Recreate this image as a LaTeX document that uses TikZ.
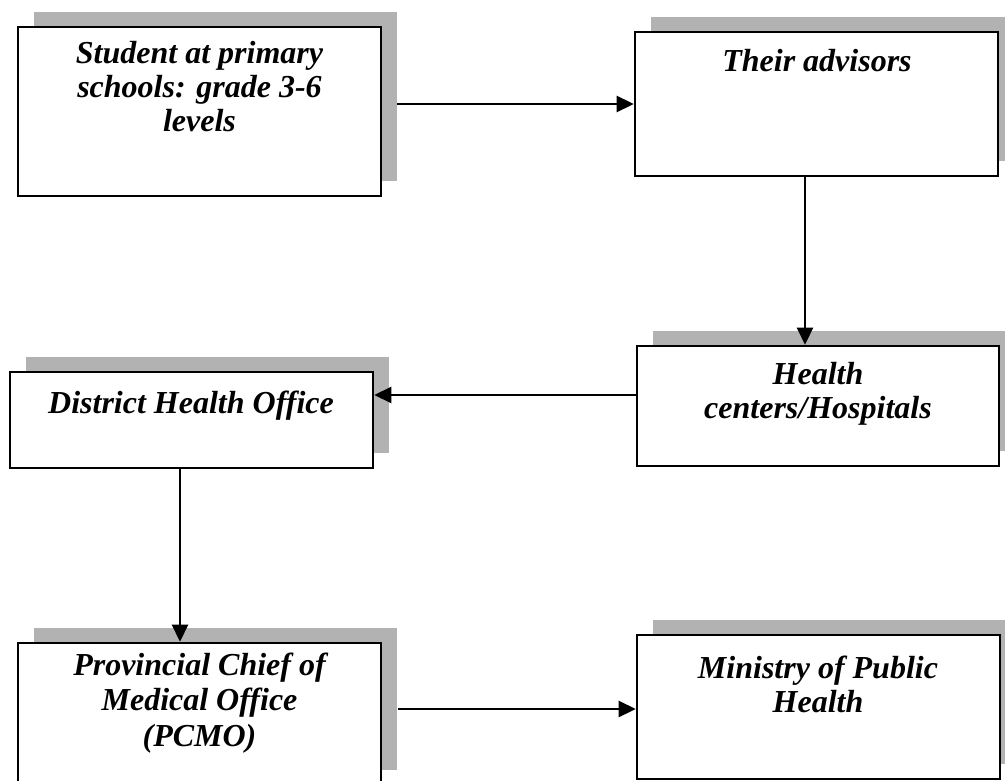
\documentclass[tikz,border=0pt]{standalone}
\usepackage{fontspec}
\setmainfont{Liberation Serif}
\usetikzlibrary{shadows,arrows.meta}
\begin{document}
\begin{tikzpicture}[x=1pt,y=-1pt,
  box/.style={draw=black, line width=2.6pt, fill=white, rectangle, inner sep=0pt,
    general shadow={shadow xshift=16pt, shadow yshift=15pt, fill=black!30}},
  txt/.style={align=center, inner sep=0pt, anchor=base,
    font=\fontsize{32}{34}\selectfont\bfseries\itshape},
  arr/.style={line width=2.6pt, -{Triangle[length=17pt,width=16pt]}}]
\useasboundingbox (0,0) rectangle (1005,781);
\fill[white] (0,0) rectangle (1005,781);
\begin{scope}
\clip (0,0) rectangle (1005,781);
\node[box, minimum width=363pt, minimum height=169pt] (b1) at (199.5,111.5) {};
\node[box, minimum width=363pt, minimum height=144pt] (b2) at (816.5,104) {};
\node[box, minimum width=362pt, minimum height=120pt] (b3) at (818,406) {};
\node[box, minimum width=363pt, minimum height=96pt] (b4) at (191.5,420) {};
\node[box, minimum width=363pt, minimum height=142pt] (b5) at (199.5,714) {};
\node[box, minimum width=363pt, minimum height=144pt] (b6) at (818.5,707) {};
\end{scope}
\node[txt] (t1) at (199.5,132) {Student at primary\\schools: grade 3-6\\levels};
\node[txt] (t2) at (817,72) {Their advisors};
\node[txt] (t3) at (818,418) {Health\\centers/Hospitals};
\node[txt] (t4) at (191,413) {District Health Office};
\node[txt, font=\fontsize{32}{35.5}\selectfont\bfseries\itshape] (t5) at (199.5,746) {Provincial Chief of\\Medical Office\\(PCMO)};
\node[txt] (t6) at (818,712) {Ministry of Public\\Health};
\coordinate (s1) at (397,104);
\coordinate (s5) at (398,709);
\coordinate (x2) at (805,0);
\coordinate (y3) at (0,395);
\coordinate (x4) at (180,0);
\draw[arr] (s1) -- (s1 -| b2.west);
\draw[arr] (x2 |- b2.south) -- (x2 |- b3.north);
\draw[arr] (y3 -| b3.west) -- (y3 -| b4.east);
\draw[arr] (x4 |- b4.south) -- (x4 |- b5.north);
\draw[arr] (s5) -- (s5 -| b6.west);
\end{tikzpicture}
\end{document}
